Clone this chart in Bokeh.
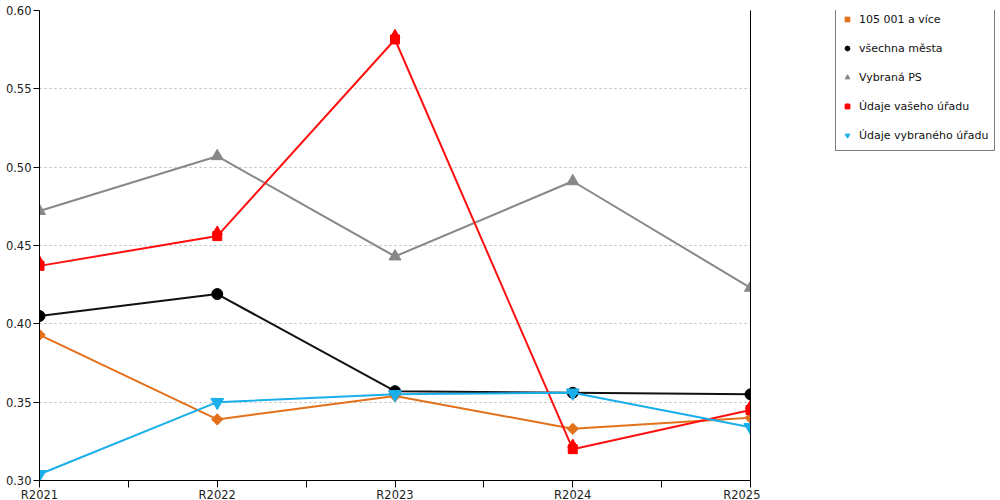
import math
from bokeh.plotting import figure
from bokeh.layouts import row
from bokeh.models import (LinearAxis, FixedTicker, Legend, LegendItem, Range1d,
                          ColumnDataSource)
from bokeh.transform import dodge
from bokeh.embed import file_html
from bokeh.resources import INLINE

categories = ["R2021", "R2022", "R2023", "R2024", "R2025"]
s_105 = [0.393, 0.339, 0.354, 0.333, 0.340]
s_all = [0.405, 0.419, 0.357, 0.356, 0.355]
s_ps = [0.472, 0.507, 0.443, 0.491, 0.423]
s_vas = [0.437, 0.456, 0.5815, 0.320, 0.345]
s_vyb = [0.304, 0.350, 0.355, 0.356, 0.334]
y_ticks = [0.30, 0.35, 0.40, 0.45, 0.50, 0.55, 0.60]

names = ["105 001 a více", "všechna města", "Vybraná PS",
         "Údaje vašeho úřadu", "Údaje vybraného úřadu"]

x = list(range(len(categories)))
FONT = "DejaVu Sans"
FS = "11.5px"

orange = "#E3711B"
blue = "#1AAFEA"
red = "#FF1010"
gray = "#888888"

p = figure(width=760, height=504, output_backend="svg", toolbar_location=None,
           x_range=Range1d(0, len(categories) - 1), y_range=Range1d(0.30, 0.60),
           min_border_left=39, min_border_right=10, min_border_top=10,
           min_border_bottom=20)
p.outline_line_color = None
p.background_fill_color = "white"
p.border_fill_color = "white"

# x axis
xt = [i * 0.5 for i in range(2 * (len(categories) - 1) + 1)]
p.xaxis.ticker = FixedTicker(ticks=xt)
overrides = {}
for t in xt:
    if abs(t - round(t)) < 1e-9:
        overrides[t] = categories[int(round(t))]
    else:
        overrides[t] = ""
p.xaxis.major_label_overrides = overrides
p.xaxis.minor_tick_line_color = None
p.xaxis.major_tick_in = 0
p.xaxis.major_tick_out = 7
p.xaxis.axis_line_color = "black"
p.xaxis.major_tick_line_color = "black"
p.xaxis.major_label_text_font = FONT
p.xaxis.major_label_text_font_size = FS
p.xaxis.major_label_text_color = "#222222"
p.xaxis.major_label_standoff = 0

# y axis
p.yaxis.ticker = FixedTicker(ticks=y_ticks)
p.yaxis.major_label_overrides = {t: f"{t:.2f}" for t in y_ticks}
p.yaxis.minor_tick_line_color = None
p.yaxis.major_tick_in = 0
p.yaxis.major_tick_out = 6
p.yaxis.axis_line_color = "black"
p.yaxis.major_tick_line_color = "black"
p.yaxis.major_label_text_font = FONT
p.yaxis.major_label_text_font_size = FS
p.yaxis.major_label_text_color = "#222222"
p.yaxis.major_label_standoff = 2

# right line
ra = LinearAxis(ticker=FixedTicker(ticks=[]), major_label_text_font_size="0px",
                major_tick_line_color=None, minor_tick_line_color=None,
                axis_line_color="black")
p.add_layout(ra, "right")

p.xgrid.grid_line_color = None
p.ygrid.ticker = FixedTicker(ticks=y_ticks)
p.ygrid.grid_line_color = "#bbbbbb"
p.ygrid.grid_line_dash = "2 3"


def draw(fig, with_lines):
    rs = []
    if with_lines:
        fig.line(x, s_105, line_color=orange, line_width=2)
    rs.append([fig.scatter(x, s_105, marker="square", size=8,
                           angle=math.pi / 4, color=orange)])
    if with_lines:
        fig.line(x, s_all, line_color="#111111", line_width=2)
    rs.append([fig.scatter(x, s_all, marker="circle", size=11, color="black")])
    if with_lines:
        fig.line(x, s_ps, line_color=gray, line_width=2)
    rs.append([fig.scatter(x, s_ps, marker="triangle", size=12, color=gray)])
    src_vas = ColumnDataSource(dict(x=x, y=s_vas))
    if with_lines:
        fig.line(x, s_vas, line_color=red, line_width=2)
    ra_ = fig.scatter("x", "y", source=src_vas, marker="square", size=9,
                      color="red")
    rb_ = fig.scatter("x", dodge("y", 0.0028, range=fig.y_range),
                      source=src_vas, marker="triangle", size=10, color="red")
    rs.append([ra_, rb_])
    if with_lines:
        fig.line(x, s_vyb, line_color=blue, line_width=2)
    rs.append([fig.scatter(x, s_vyb, marker="inverted_triangle", size=13,
                           color=blue)])
    return rs


draw(p, True)

# legend panel: a small figure whose ranges keep its marks out of view
lf = figure(width=240, height=500, output_backend="svg", toolbar_location=None,
            x_range=Range1d(100, 101), y_range=Range1d(100, 101),
            min_border_left=0, min_border_right=0, min_border_top=0,
            min_border_bottom=0)
lf.axis.visible = False
lf.grid.visible = False
lf.outline_line_color = None
lrs = draw(lf, False)
items = [LegendItem(label=n, renderers=r) for n, r in zip(names, lrs)]
legend = Legend(items=items, location=(75, 325), border_line_color="black",
                border_line_width=1, label_text_font=FONT,
                label_text_font_size="11px", label_text_color="#111111",
                label_height=20, label_standoff=6, glyph_width=12,
                glyph_height=14, spacing=9, padding=5, margin=0,
                background_fill_color="white", background_fill_alpha=1)
lf.add_layout(legend, "center")

layout = row(p, lf)
open("out.html", "w").write(file_html(layout, INLINE))
